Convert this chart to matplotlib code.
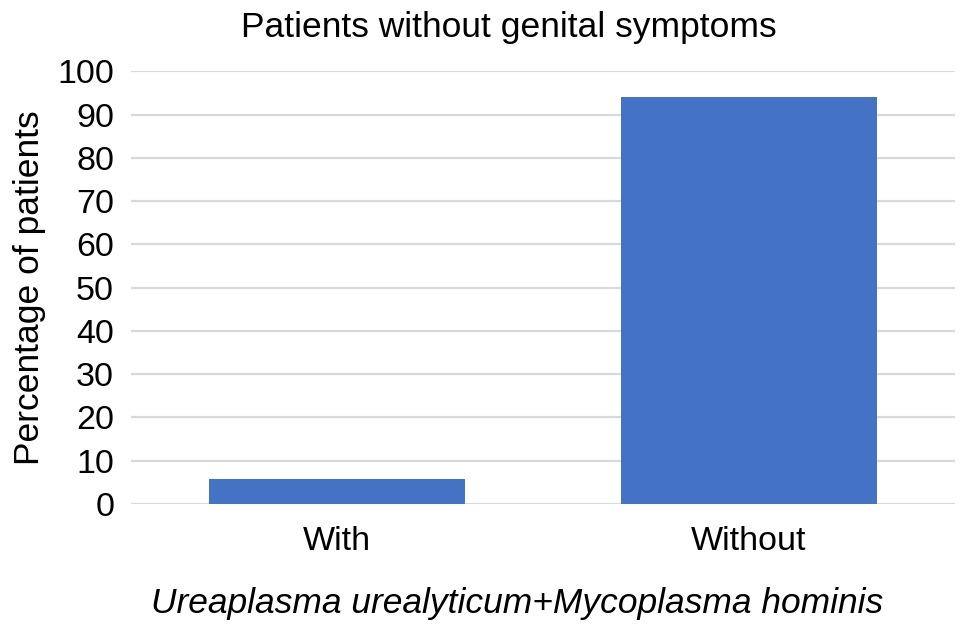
import matplotlib

matplotlib.use("Agg")
import matplotlib.pyplot as plt

# Values.
categories = ["With", "Without"]
percentages = [5.9, 94.1]
y_ticks = list(range(0, 101, 10))

plt.rcParams["font.family"] = ["Liberation Sans", "DejaVu Sans"]

fig = plt.figure(figsize=(9.69, 6.34), dpi=100)
ax = fig.add_axes([0.135, 0.205, 0.8505, 0.6825])

ax.bar(categories, percentages, width=0.62, color="#4472C4", zorder=3)

ax.set_xlim(-0.5, 1.5)
ax.set_ylim(0, 100)
ax.set_yticks(y_ticks)
ax.tick_params(axis="both", length=0, labelsize=24.5)
ax.tick_params(axis="x", pad=16)
ax.tick_params(axis="y", pad=12)
ax.grid(True, axis="y", color="#d9d9d9", linewidth=1.6, zorder=0)
for spine in ax.spines.values():
    spine.set_visible(False)

ax.set_ylabel("Percentage of patients", fontsize=25.5, labelpad=8)
fig.text(0.525, 0.957, "Patients without genital symptoms", ha="center", va="center", fontsize=25.5)
fig.text(0.534, 0.048, "Ureaplasma urealyticum+Mycoplasma hominis", ha="center", va="center",
         fontsize=25.5, style="italic")

fig.savefig("out.png", dpi=100)
plt.close(fig)
